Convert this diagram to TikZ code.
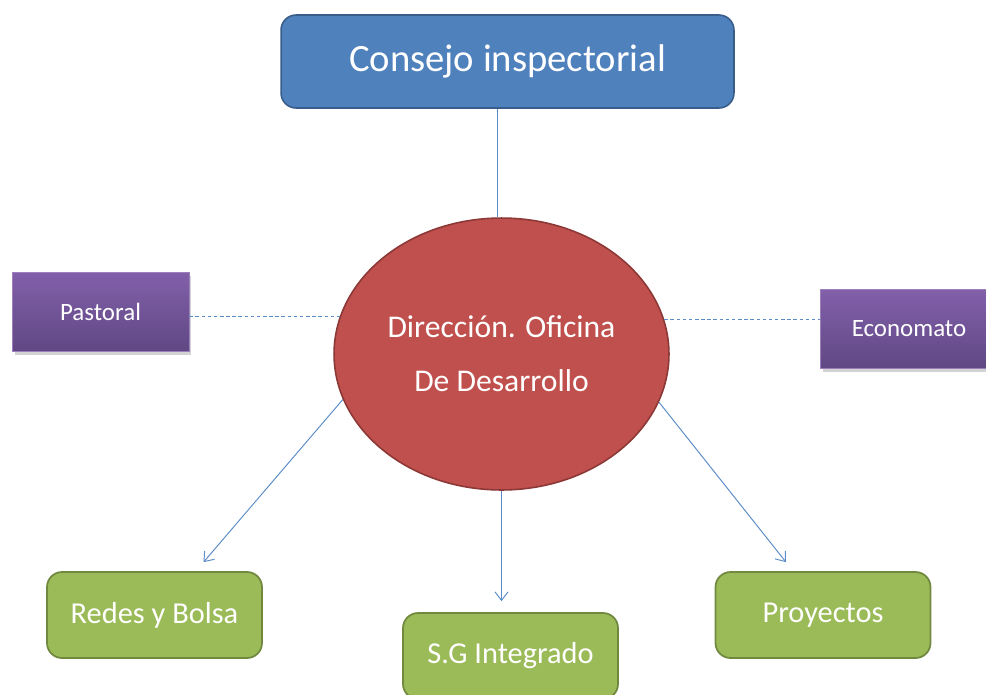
\documentclass[tikz,border=0pt]{standalone}
\usepackage{fontspec}
\setmainfont{Carlito}
\usepackage{xcolor}
\usepackage{tikz}
\definecolor{consejoblue}{RGB}{79, 129, 189}
\definecolor{consejoedge}{RGB}{56, 93, 138}
\definecolor{direccionred}{RGB}{192, 80, 77}
\definecolor{direccionedge}{RGB}{140, 56, 54}
\definecolor{areagreen}{RGB}{155, 187, 89}
\definecolor{areaedge}{RGB}{113, 137, 63}
\definecolor{apoyotop}{RGB}{130, 96, 170}
\definecolor{apoyobottom}{RGB}{96, 72, 132}
\definecolor{linkblue}{RGB}{92, 140, 200}
\usetikzlibrary{shapes.geometric, arrows.meta, positioning, shadows}

\begin{document}
\begin{tikzpicture}[
        x=0.02cm, y=-0.02cm,
        every node/.style={text=white},
        consejobox/.style={rectangle, rounded corners=0.3cm, minimum width=9.06cm, minimum height=1.86cm, draw=consejoedge, line width=0.9pt, fill=consejoblue, font=\fontsize{22}{26}\selectfont},
        direccion/.style={ellipse, inner sep=0pt, minimum width=6.7cm, minimum height=5.44cm, draw=direccionedge, line width=0.9pt, fill=direccionred, align=center, font=\fontsize{18}{30.7}\selectfont},
        area/.style={rectangle, rounded corners=0.3cm, minimum width=4.3cm, minimum height=1.72cm, draw=areaedge, line width=1pt, fill=areagreen, font=\fontsize{17.3}{20}\selectfont},
        apoyo/.style={rectangle, minimum width=3.54cm, minimum height=1.58cm, draw=apoyotop!80!white, line width=0.3pt, top color=apoyotop, bottom color=apoyobottom, drop shadow={opacity=0.35, shadow xshift=0.05cm, shadow yshift=-0.07cm}, font=\fontsize{14.2}{17}\selectfont},
        link/.style={draw=linkblue, line width=0.55pt},
        dots/.style={link, dash pattern=on 2pt off 1.5pt},
        arrow/.style={link, -{Straight Barb[length=0.17cm, width=0.26cm]}}
    ]

        \useasboundingbox (0,0) rectangle (986,694);

        \node[consejobox] (consejo) at (507.5,61.5) {Consejo inspectorial};
        \node[direccion] (dir) at (501.5,354) {Dirección. Oficina\\De Desarrollo};

        \node[apoyo] (pastoral) at (100.5,311.5) {Pastoral};
        \node[apoyo] (economato) at (909,328.5) {Economato};

        \node[area] (redes) at (154.5,615) {Redes y Bolsa};
        \node[area] (sg) at (510.5,656) {S.G Integrado};
        \node[area] (proyectos) at (823,615) {Proyectos};

        \draw[link] ([xshift=-0.08cm]consejo.south -| dir.north) -- ([xshift=-0.08cm]dir.north);
        \draw[dots] (pastoral.east |- dir.167) -- (dir.167);
        \draw[dots] (dir.12) -- (dir.12 -| economato.west);
        \draw[arrow] (dir.196) -- ([shift={(49,-9)}]redes.north);
        \draw[arrow, shorten >=0.22cm] (dir.south) -- (dir.south |- sg.north);
        \draw[arrow] (dir.343) -- ([shift={(-37,-9)}]proyectos.north);

    \end{tikzpicture}
\end{document}
